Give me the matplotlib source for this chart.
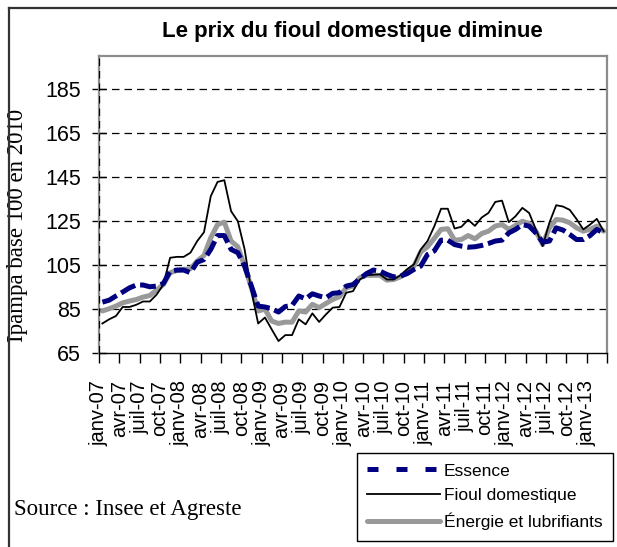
import matplotlib

matplotlib.use("Agg")
import matplotlib.pyplot as plt
import numpy as np
from matplotlib.lines import Line2D

NAVY, GREY, INK = "#000080", "#999999", "#000000"

# Ipampa, base 100 en 2010, janv-07 .. mars-13 (monthly)
essence = [88.0, 88.9, 90.8, 92.6, 94.5, 95.8, 95.8, 95.0, 95.3, 96.5,
           102.1, 102.6, 102.6, 101.4, 106.2, 107.4, 112.0, 118.3, 118.3, 112.0,
           110.5, 104.4, 95.3, 86.2, 85.8, 85.0, 83.5, 86.0, 86.5, 90.8,
           89.5, 91.8, 90.8, 90.0, 92.0, 92.3, 95.3, 96.0, 98.6, 101.0,
           102.6, 102.1, 100.6, 99.5, 99.8, 101.0, 102.9, 104.4, 109.7, 111.3,
           116.2, 116.2, 114.2, 113.5, 113.0, 113.2, 113.8, 114.7, 115.8, 116.2,
           119.5, 121.1, 123.3, 122.6, 119.5, 115.3, 115.8, 121.8, 120.8, 118.8,
           116.5, 116.5, 118.3, 121.1, 119.5]
fioul = [78.3, 80.2, 81.7, 85.8, 85.8, 86.8, 88.3, 88.3, 91.4, 96.0,
         108.2, 108.6, 108.6, 110.5, 115.8, 119.8, 136.2, 142.7, 143.5, 129.4,
         124.8, 112.0, 93.0, 78.3, 81.0, 75.6, 70.3, 73.0, 73.0, 80.2,
         77.9, 82.9, 79.0, 82.4, 85.5, 85.8, 92.3, 93.0, 98.3, 100.2,
         100.5, 100.6, 98.3, 98.3, 100.2, 103.0, 105.2, 112.0, 115.8, 122.5,
         130.5, 130.5, 121.5, 122.3, 125.5, 122.7, 126.5, 128.6, 133.6, 134.2,
         124.4, 127.1, 130.9, 128.6, 121.1, 113.5, 124.2, 132.1, 131.5, 130.0,
         125.8, 121.1, 123.3, 125.9, 120.3]
energie = [84.0, 85.0, 86.2, 87.7, 88.5, 89.2, 90.3, 91.0, 93.5, 96.0,
           101.4, 102.4, 102.9, 103.2, 106.7, 109.2, 117.3, 123.3, 124.4, 115.8,
           113.2, 104.4, 94.5, 84.0, 84.8, 79.4, 78.3, 78.9, 78.9, 84.0,
           83.5, 87.0, 85.5, 87.4, 89.2, 90.5, 94.5, 95.3, 99.1, 100.2,
           100.2, 100.2, 98.0, 98.3, 99.5, 102.1, 104.4, 110.8, 113.2, 117.0,
           121.1, 121.4, 116.2, 116.5, 118.3, 116.8, 119.2, 120.3, 122.6, 123.3,
           121.1, 122.9, 124.8, 123.8, 120.3, 114.2, 121.8, 125.6, 125.3, 124.1,
           121.8, 120.3, 121.1, 122.6, 120.3]

months = ["janv", "avr", "juil", "oct"]
years = ["07", "08", "09", "10", "11", "12", "13"]
tick_labels = [f"{m}-{y}" for y in years for m in months][:25]
yticks = [65, 85, 105, 125, 145, 165, 185]

SANS = "Liberation Sans"
SERIF = "Liberation Serif"

fig = plt.figure(figsize=(6.17, 5.47), dpi=100)
W, H = 617, 547
ax = fig.add_axes([99 / W, 1 - 352.7 / H, (607 - 99) / W, (352.7 - 56) / H])

x = np.arange(len(fioul))
ax.plot(x, energie, color=GREY, lw=3.6, solid_capstyle="round", solid_joinstyle="round")
ax.plot(x, fioul, color=INK, lw=1.3)
ax.plot(x, essence, color=NAVY, lw=3.6, dashes=(3.2, 1.0))

ax.set_xlim(-0.5, len(fioul) - 0.5)
ax.set_ylim(65, 200)
for v in yticks[1:]:
    ax.axhline(v, color=INK, lw=0.9, dashes=(6, 4), zorder=0)

ax.set_yticks(yticks)
ax.set_yticklabels([str(v) for v in yticks], fontsize=15.5, family=SANS)
ax.tick_params(axis="y", direction="inout", length=10, width=1, pad=8)

tick_pos = np.arange(-0.5, len(fioul), 3)
ax.set_xticks(tick_pos)
ax.set_xticklabels(tick_labels + [""] * (len(tick_pos) - len(tick_labels)),
                   rotation=90, fontsize=14.5, family=SANS)
ax.tick_params(axis="x", direction="out", length=7, width=1, pad=13)

for side in ("top", "right", "left"):
    ax.spines[side].set_color("#8c8c8c")
    ax.spines[side].set_linewidth(1.6)
ax.spines["bottom"].set_color(INK)
ax.spines["bottom"].set_linewidth(1.0)
ax.axvline(-0.5, color=INK, lw=0.9, dashes=(6, 4), zorder=3)

ax.set_ylabel("Ipampa base 100 en 2010", family=SERIF, fontsize=16.5)
ax.yaxis.set_label_coords(-0.14, 0.43)

fig.text(352 / W, 1 - 32 / H, "Le prix du fioul domestique diminue", ha="center",
         va="center", fontsize=16, fontweight="bold", family=SANS)
fig.text(14 / W, 1 - 510 / H, "Source : Insee et Agreste", ha="left", va="center",
         fontsize=16.5, family=SERIF)

# outer frame
fig.add_artist(Line2D([9 / W, 9 / W], [0, 1 - 8 / H], transform=fig.transFigure,
                      color="#333333", lw=1.6))
fig.add_artist(Line2D([9 / W, 1], [1 - 8 / H, 1 - 8 / H], transform=fig.transFigure,
                      color="#333333", lw=1.6))

handles = [
    Line2D([], [], color=NAVY, lw=3.6, dashes=(2.2, 3.6)),
    Line2D([], [], color=INK, lw=1.3),
    Line2D([], [], color=GREY, lw=3.6, solid_capstyle="round"),
]
leg = fig.legend(handles, ["Essence", "Fioul domestique", "Énergie et lubrifiants"],
                 loc="upper left", bbox_to_anchor=(357 / W, 1 - 453 / H),
                 bbox_transform=fig.transFigure, fancybox=False, framealpha=1,
                 edgecolor=INK, prop={"family": SANS, "size": 12.5},
                 handlelength=4.2, handletextpad=0.2, labelspacing=0.55,
                 borderpad=0.6, borderaxespad=0)
leg.get_frame().set_linewidth(1.0)

fig.savefig("out.png", dpi=100, facecolor="white")
